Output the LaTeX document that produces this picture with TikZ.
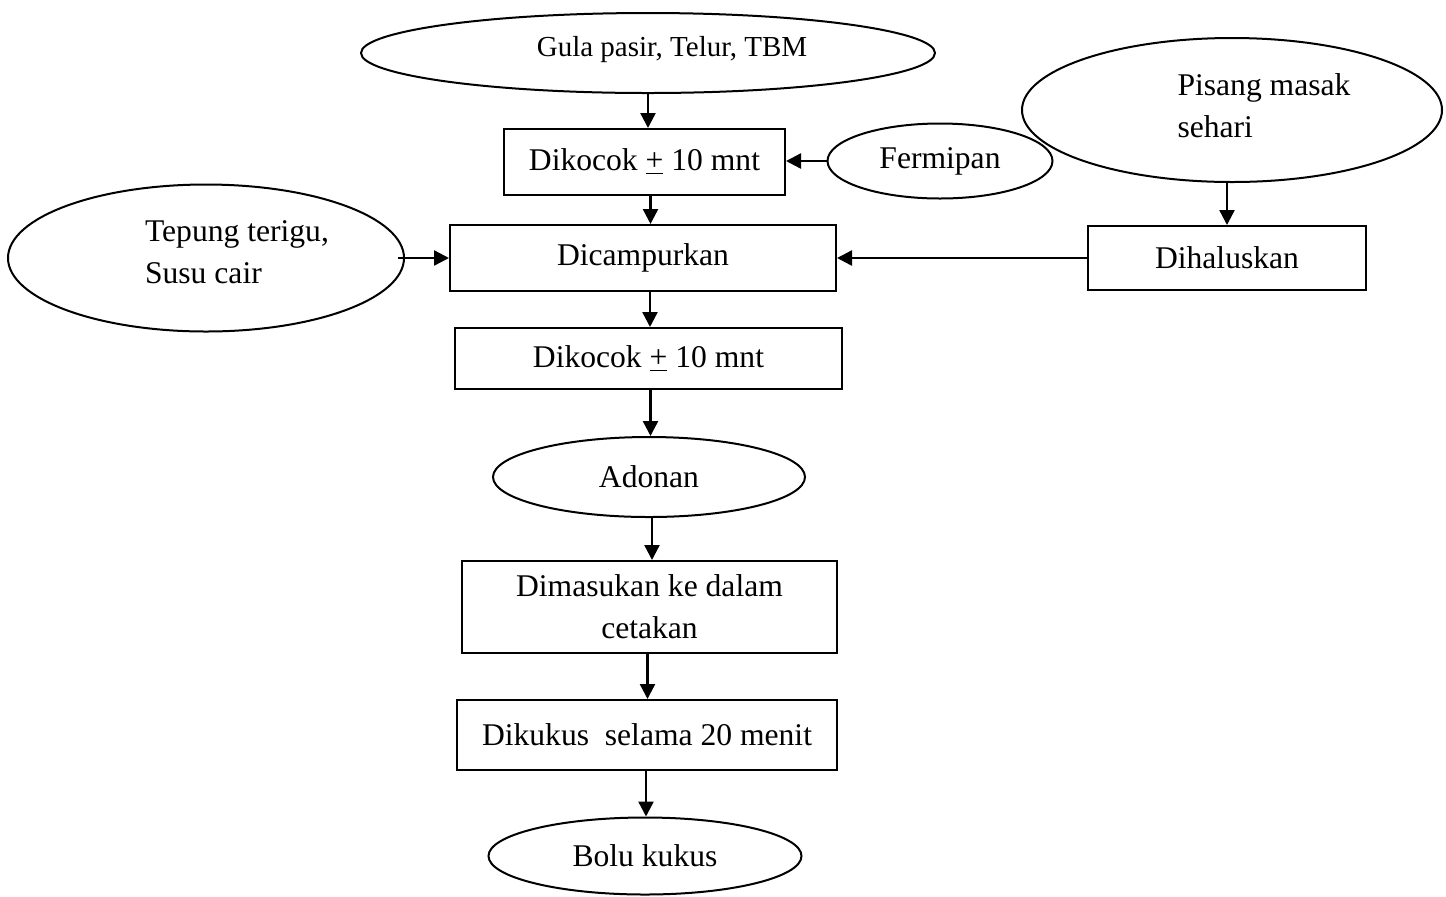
\documentclass[tikz,border=0pt]{standalone}
\usepackage{fontspec}
\setmainfont{Liberation Serif}
\usetikzlibrary{shapes.geometric,arrows.meta,calc}
\begin{document}
\begin{tikzpicture}[x=0.5pt,y=-0.5pt,
  every node/.style={font=\fontsize{15.8pt}{21pt}\selectfont},
  oval/.style={draw,ellipse,line width=1pt,inner sep=0pt},
  proc/.style={draw,rectangle,line width=1pt,inner sep=0pt,align=center},
  lbl/.style={inner sep=0pt,align=left},
  arr/.style={line width=1.2pt,-{Triangle[length=7.5pt,width=7.5pt]}}]
\useasboundingbox (0,0) rectangle (1446,896);
% ellipses
\node[oval,minimum width=287pt,minimum height=40pt] (g) at (648,53) {};
\node[lbl,font=\fontsize{14.5pt}{19pt}\selectfont] (gt) at (672,50) {Gula pasir, Telur, TBM};
\node[oval,minimum width=112.5pt,minimum height=37.5pt] (ferm) at (940,161) {Fermipan};
\node[oval,minimum width=210pt,minimum height=72pt] (pis) at (1232,110) {};
\node[lbl] (pist) at (1264,106) {Pisang masak\\sehari};
\node[oval,minimum width=198pt,minimum height=73.5pt] (tep) at (206,258) {};
\node[lbl] (tept) at (237,252) {Tepung terigu,\\Susu cair};
\node[oval,minimum width=156pt,minimum height=40pt] (ad) at (649,477) {Adonan};
\node[oval,minimum width=156.5pt,minimum height=38.5pt] (bolu) at (645,856) {Bolu kukus};
% boxes
\node[proc,minimum width=140.5pt,minimum height=33pt] (k1) at (644.5,162) {Dikocok \underline{+} 10 mnt};
\node[proc,minimum width=193pt,minimum height=33pt] (camp) at (643,258) {Dicampurkan};
\node[proc,minimum width=139pt,minimum height=32pt] (hal) at (1227,258) {Dihaluskan};
\node[proc,minimum width=193.5pt,minimum height=30.5pt] (k2) at (648.5,358.5) {Dikocok \underline{+} 10 mnt};
\node[proc,minimum width=187.5pt,minimum height=46pt] (mas) at (649.5,607) {Dimasukan ke dalam\\cetakan};
\node[proc,minimum width=190pt,minimum height=35pt] (kuk) at (647,735) {Dikukus\ \ selama 20 menit};
% connectors
\draw[arr] (g.south) -- (g.south |- k1.north);
\draw[arr] (ferm.west) -- (ferm.west -| k1.east);
\draw[arr] ($(k1.south)+(6,0)$) -- ($(k1.south |- camp.north)+(6,0)$);
\draw[arr] (hal.north |- pis.south) -- (hal.north);
\draw[arr] (hal.west) -- (hal.west -| camp.east);
\draw[arr] ($(tep.east)+(-7,0)$) -- (camp.west);
\draw[arr] ($(camp.south)+(7,0)$) -- ($(camp.south |- k2.north)+(7,0)$);
\draw[arr] ($(k2.south)+(2,0)$) -- ($(k2.south |- ad.north)+(2,0)$);
\draw[arr] ($(ad.south)+(3,0)$) -- ($(ad.south |- mas.north)+(3,0)$);
\draw[arr] ($(mas.south)+(-2,0)$) -- ($(mas.south |- kuk.north)+(-2,0)$);
\draw[arr] ($(kuk.south)+(-1,0)$) -- ($(kuk.south |- bolu.north)+(-1,0)$);
\end{tikzpicture}
\end{document}
